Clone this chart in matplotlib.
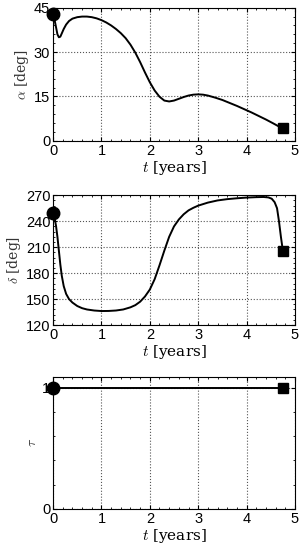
import matplotlib.pyplot as plt
from matplotlib.ticker import AutoMinorLocator

plt.rcParams['mathtext.fontset'] = 'cm'
plt.rcParams['font.family'] = 'Liberation Sans'

t_alpha = [0.0, 0.03, 0.06, 0.09, 0.12, 0.15, 0.18, 0.22, 0.27, 0.33, 0.4, 0.5, 0.6,
           0.7, 0.8, 0.9, 1.0, 1.1, 1.2, 1.3, 1.4, 1.5, 1.6, 1.7, 1.8, 1.9, 2.0,
           2.1, 2.2, 2.3, 2.4, 2.5, 2.6, 2.7, 2.8, 2.9, 3.0, 3.1, 3.2, 3.35, 3.5,
           3.65, 3.8, 3.95, 4.1, 4.25, 4.4, 4.55, 4.65, 4.75]
alpha = [43.0, 41.0, 38.5, 36.0, 35.0, 35.2, 36.3, 37.8, 39.3, 40.5, 41.3, 41.8, 42.0,
         42.0, 41.8, 41.4, 40.8, 40.0, 39.0, 37.8, 36.4, 34.7, 32.5, 29.8, 26.6, 23.1, 19.8,
         17.0, 14.9, 13.6, 13.3, 13.6, 14.2, 14.8, 15.3, 15.6, 15.7, 15.6, 15.3, 14.6, 13.8,
         12.8, 11.8, 10.7, 9.6, 8.4, 7.2, 5.9, 5.0, 4.2]

t_delta = [0.0, 0.03, 0.06, 0.09, 0.12, 0.15, 0.18, 0.22, 0.27, 0.33, 0.4, 0.5, 0.6,
           0.7, 0.85, 1.0, 1.15, 1.3, 1.45, 1.6, 1.7, 1.8, 1.9, 2.0, 2.1, 2.2, 2.3,
           2.4, 2.5, 2.6, 2.7, 2.8, 2.9, 3.0, 3.2, 3.4, 3.6, 3.8, 4.0, 4.2, 4.35,
           4.45, 4.52, 4.58, 4.63, 4.67, 4.71, 4.75]
delta = [249, 244, 235, 222, 206, 190, 177, 165, 156, 150, 146, 142, 139.5,
         138, 136.8, 136.2, 136.3, 136.8, 138, 140.5, 143, 147, 153, 161, 173, 189, 206,
         222, 234, 242, 248, 252.5, 255.5, 258, 261.5, 264, 265.5, 266.5, 267.3, 267.8, 268,
         267.5, 266, 262, 255, 240, 222, 206]

t_tau = [0.0, 4.75]
tau = [1.0, 1.0]

panels = [
    (t_alpha, alpha, r'$\alpha$ [deg]', (0, 45), [0, 15, 30, 45]),
    (t_delta, delta, r'$\delta$ [deg]', (120, 270), [120, 150, 180, 210, 240, 270]),
    (t_tau, tau, r'$\tau$', (0, 1.09), [0, 1]),
]
boxes = [(0.174, 0.744, 0.793, 0.242), (0.174, 0.409, 0.793, 0.236), (0.174, 0.075, 0.793, 0.240)]

fig = plt.figure(figsize=(3.05, 5.5), dpi=100)
for (t, y, lab, ylim, yt), box in zip(panels, boxes):
    ax = fig.add_axes(box)
    ax.plot(t, y, color='black', lw=1.4)
    ax.plot(t[0], y[0], 'o', color='black', ms=9, clip_on=False, zorder=5)
    ax.plot(t[-1], y[-1], 's', color='black', ms=7, clip_on=False, zorder=5)
    ax.set_xlim(0, 5)
    ax.set_ylim(*ylim)
    ax.set_xticks([0, 1, 2, 3, 4, 5])
    ax.set_yticks(yt)
    ax.xaxis.set_minor_locator(AutoMinorLocator(5))
    ax.yaxis.set_minor_locator(AutoMinorLocator(5))
    ax.grid(True, which='major', ls=':', color='#555555', lw=0.8)
    ax.tick_params(which='both', direction='in', top=True, right=True, labelsize=10.5, pad=2)
    ax.tick_params(which='major', length=3)
    ax.tick_params(which='minor', length=1.5)
    ax.set_xlabel(r'$t$ [years]', family='serif', fontsize=11, labelpad=1)
    ax.set_ylabel(lab, family='serif', fontsize=10, color='#333333', labelpad=2)
    for s in ax.spines.values():
        s.set_linewidth(0.8)

fig.savefig('out.png', dpi=100)
